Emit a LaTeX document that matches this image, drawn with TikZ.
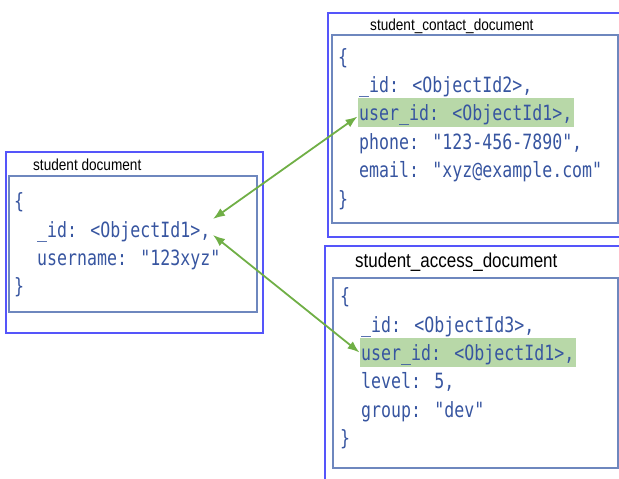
\documentclass[tikz,border=0pt]{standalone}
\usepackage{fontspec}
\usetikzlibrary{arrows.meta}
\newfontfamily\codefont[FakeStretch=0.79]{DejaVu Sans Mono}
\newfontfamily\labelfont[FakeStretch=0.85]{Liberation Sans}
\definecolor{outerblue}{RGB}{85,85,250}
\definecolor{innerblue}{RGB}{110,135,190}
\definecolor{codeblue}{RGB}{55,85,160}
\definecolor{hlgreen}{RGB}{184,216,168}
\definecolor{arrowgreen}{RGB}{112,175,70}

\begin{document}
\begin{tikzpicture}[x=1pt, y=-1pt,
        outer/.style={draw=outerblue, line width=1.3pt},
        inner/.style={draw=innerblue, line width=1.2pt},
        code/.style={anchor=base west, inner sep=0pt, text=codeblue, font=\codefont\fontsize{21}{21}\selectfont},
        hl/.style={code, fill=hlgreen, inner xsep=1.5pt, text height=22pt, text depth=7pt},
        doclabel/.style={anchor=west, inner sep=0pt, font=\labelfont\fontsize{16}{16}\selectfont},
        link/.style={draw=arrowgreen, line width=1.8pt, {Latex[length=12pt,width=9pt]}-{Latex[length=12pt,width=9pt]}}]
        \useasboundingbox (0,0) rectangle (619,479);

        % student document
        \draw[outer] (6,152) rectangle (263,333);
        \draw[inner] (9,176) rectangle (257,312);
        \node[doclabel] (slabel) at (33,165) {student document};
        \node[code] (sopen) at (14,208) {\{};
        \node[code] (sid) at (37,237) {\_id: <ObjectId1>,};
        \node[code] (sname) at (37,265) {username: "123xyz"};
        \node[code] (sclose) at (14,293) {\}};

        % student_contact_document
        \draw[outer] (619,13) -- (328,13) -- (328,237) -- (619,237);
        \draw[inner] (332,35) rectangle (618,223);
        \node[doclabel] (clabel) at (370,26) {student\_contact\_document};
        \node[code] (copen) at (338,64) {\{};
        \node[code] (cid) at (359,92) {\_id: <ObjectId2>,};
        \node[hl] (cuid) at (357.5,120) {user\_id: <ObjectId1>,};
        \node[code] (cphone) at (359,149) {phone: "123-456-7890",};
        \node[code] (cmail) at (359,177) {email: "xyz@example.com"};
        \node[code] (cclose) at (338,206) {\}};

        % student_access_document
        \draw[outer] (619,246) -- (325,246) -- (325,479);
        \draw[inner] (333,278) rectangle (618,468);
        \node[doclabel, font=\labelfont\fontsize{20}{20}\selectfont] (alabel) at (355,262) {student\_access\_document};
        \node[code] (aopen) at (340,303) {\{};
        \node[code] (aid) at (361,332) {\_id: <ObjectId3>,};
        \node[hl] (auid) at (359.5,360) {user\_id: <ObjectId1>,};
        \node[code] (alevel) at (361,388) {level: 5,};
        \node[code] (agroup) at (361,417) {group: "dev"};
        \node[code] (aclose) at (340,445) {\}};

        % links
        \coordinate (sidtop) at (213,219);
        \coordinate (sidlow) at (213,235);
        \draw[link] (sidtop) -- ([yshift=-4pt]cuid.west);
        \draw[link] (sidlow) -- (auid.west);
    \end{tikzpicture}
\end{document}
